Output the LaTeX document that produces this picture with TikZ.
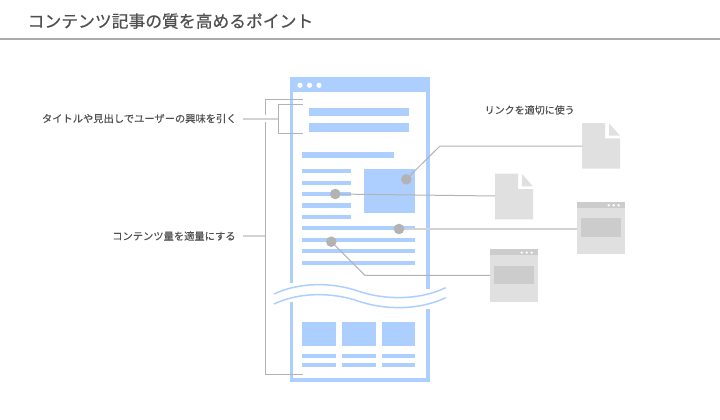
\documentclass[tikz,border=0pt]{standalone}
\usepackage{fontspec}
\setmainfont{Noto Sans CJK JP}
\newfontfamily\titlefont[FakeBold=0.5]{Noto Sans CJK JP}
\newfontfamily\labelfont[FakeBold=0.25]{Noto Sans CJK JP}
\definecolor{pageblue}{HTML}{ADCFFF}
\definecolor{linkgray}{HTML}{B3B3B3}
\definecolor{palegray}{HTML}{D3D3D3}
\definecolor{docgray}{HTML}{DFE0DF}
\definecolor{bargray}{HTML}{CBCCCB}
\definecolor{textgray}{HTML}{505050}
\tikzset{
  bluebar/.style={fill=pageblue,draw=none},
  linkdot/.style={circle,fill=linkgray,draw=none,minimum size=10.6pt,inner sep=0pt},
  linkline/.style={draw=linkgray,line width=1pt},
  paleline/.style={draw=palegray,line width=1.2pt},
  caption/.style={text=textgray,font=\labelfont\fontsize{10.27}{12}\selectfont,inner sep=0pt},
  boxnode/.style={inner sep=0pt,outer sep=0pt,minimum width=#1,draw=none},
}
\begin{document}
\begin{tikzpicture}[x=1pt,y=-1pt]
\useasboundingbox (0,0) rectangle (720,420);
% title
\node[anchor=west,text=textgray,font=\titlefont\fontsize{16.8}{20}\selectfont,inner sep=0pt] (title) at (27.5,21) {コンテンツ記事の質を高めるポイント};
\fill[color=linkgray!110] (0,38.3) rectangle (720,39.9);
% page frame
\fill[bluebar] (290,77) rectangle (430,92.3);
\fill[bluebar] (290,92) rectangle (293.4,282.7);
\fill[bluebar] (290,301.7) rectangle (293.4,382);
\fill[bluebar] (426.4,92) rectangle (430,289);
\fill[bluebar] (426.4,308.7) rectangle (430,382);
\fill[bluebar] (290,378.2) rectangle (430,382);
\foreach \x in {300,309.5,319} \fill[white] (\x,85.3) circle (2.6);
% headings
\fill[bluebar] (308.7,108) rectangle (409,116.3);
\fill[bluebar] (308.7,123.3) rectangle (409,131.7);
\fill[bluebar] (302.3,152) rectangle (394,158.3);
% text lines
\foreach \y in {169,180.5,192,203.3,214.7} \fill[bluebar] (302.3,\y) rectangle (351,\y+4.4);
\fill[bluebar] (364,169) rectangle (415.3,213.3);
\foreach \y in {226,237.6,249,260.6} \fill[bluebar] (302.3,\y) rectangle (415.3,\y+4.4);
% break
\draw[pageblue,line width=1.5pt] (274,294) .. controls (295,284) and (325,281) .. (355,290) .. controls (385,301) and (420,300) .. (445.7,287.7);
\draw[pageblue,line width=1.5pt] (274,304) .. controls (295,294) and (325,291) .. (355,300) .. controls (385,311) and (420,310) .. (445.7,297.7);
% bottom blocks
\foreach \x/\w in {302.3/33.4,342/33.7,382/33.3} {
  \fill[bluebar] (\x,322) rectangle (\x+\w,346);
  \fill[bluebar] (\x,354) rectangle (\x+\w,358);
  \fill[bluebar] (\x,363) rectangle (\x+\w,367);
}
% brackets
\coordinate (outertop) at (302.7,99);
\coordinate (outerbot) at (302.7,374.5);
\coordinate (innertop) at (302.7,104.5);
\coordinate (innerbot) at (302.7,133);
\node[caption,anchor=east] (titlelabel) at (236.8,118.5) {タイトルや見出しでユーザーの興味を引く};
\node[caption,anchor=east] (amountlabel) at (235.8,236) {コンテンツ量を適量にする};
\node[caption,anchor=west,font=\labelfont\fontsize{10}{12}\selectfont] (linklabel) at (484.5,110) {リンクを適切に使う};
\draw[linkline] (outertop) -| (265.5,374.5) -- (outerbot);
\draw[linkline] (innertop) -| (278,133) -- (innerbot);
\draw[white,line width=7pt] (262,118.7) -- (269,118.7);
\draw[paleline] (243,119) -- (278,119);
\draw[paleline] (amountlabel.east) ++(7.5,0) -- (265.3,236);
% linked files
\node[boxnode=38pt,minimum height=45.7pt,anchor=north west] (docone) at (582,123) {};
\node[boxnode=38pt,minimum height=45.7pt,anchor=north west] (doctwo) at (495,173.7) {};
\foreach \d in {docone,doctwo} {
  \fill[docgray] (\d.north west) -- ++(23,0) -- ++(0,15.3) -- ++(15,0) |- (\d.south west) -- cycle;
  \fill[docgray] (\d.north west) ++(27,0.3) -- ++(11,12.4) -- ++(-11,0) -- cycle;
}
\node[boxnode=47.7pt,minimum height=52pt,anchor=north west,fill=docgray] (winone) at (577,202) {};
\node[boxnode=47.7pt,minimum height=52.4pt,anchor=north west,fill=docgray] (wintwo) at (490,249.3) {};
\foreach \w in {winone,wintwo} {
  \fill[bargray] (\w.north west) rectangle ++(47.7,6);
  \fill[bargray] (\w.north west) ++(4,16.3) rectangle ++(39.8,18.4);
  \foreach \x in {31.7,36.7,41.7} \fill[white] (\w.north west) ++(\x,3.3) circle (1.3);
}
% link dots
\node[linkdot] (dotimage) at (406.3,179.3) {};
\node[linkdot] (dotshort) at (335.3,194) {};
\node[linkdot] (dotlong) at (399,229) {};
\node[linkdot] (dotlower) at (331.3,241.7) {};
\draw[linkline] (dotimage) -- (440,146) -- (docone.west |- 0,146);
\draw[linkline] (dotshort) -- (doctwo.west |- 0,196);
\draw[paleline] (dotlong) -- (winone.west |- dotlong);
\draw[linkline] (dotlower) -- (365,275.3) -- (wintwo.west |- 0,275.3);
\end{tikzpicture}
\end{document}
